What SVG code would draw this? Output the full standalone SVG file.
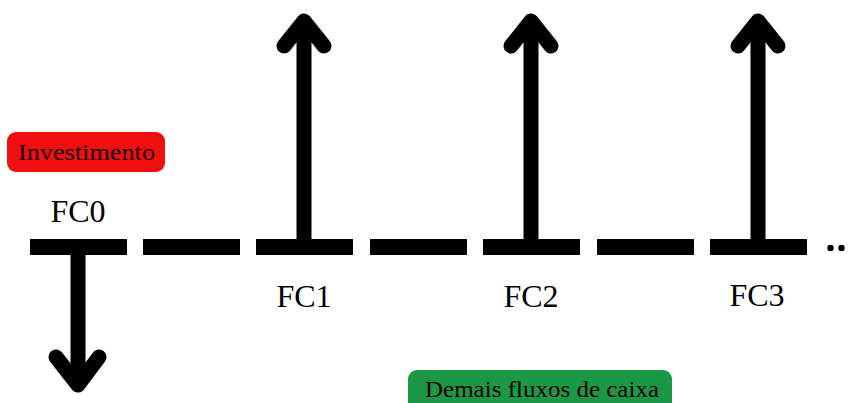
<svg xmlns="http://www.w3.org/2000/svg" width="848" height="403" viewBox="0 0 848 403">
<style>
.seg{fill:#000}
.shaft{stroke:#000;stroke-width:15;fill:none}
.head{stroke:#000;stroke-width:15;fill:none;stroke-linecap:round;stroke-linejoin:round}
.fc{font-family:"Liberation Serif",serif;font-size:32px;fill:#000;text-anchor:middle}
.tag{font-family:"Liberation Serif",serif;font-size:24px;fill:#1a0000}
</style>
<rect width="848" height="403" fill="#fff"/>
<g id="timeline">
<rect class="seg" x="30" y="239" width="97" height="16"/>
<rect class="seg" x="143" y="239" width="97" height="16"/>
<rect class="seg" x="256" y="239" width="97" height="16"/>
<rect class="seg" x="370" y="239" width="97" height="16"/>
<rect class="seg" x="483" y="239" width="97" height="16"/>
<rect class="seg" x="597" y="239" width="97" height="16"/>
<rect class="seg" x="710" y="239" width="97" height="16"/>
<circle cx="830.5" cy="248" r="3.2"/>
<circle cx="841.5" cy="248" r="3.2"/>
</g>
<g id="connectors">
<line class="shaft" x1="78" y1="255" x2="78" y2="384"/>
<polyline class="head" points="56,357 78,385 99,357"/>
<line class="shaft" x1="304" y1="239" x2="304" y2="24"/>
<polyline class="head" points="284,46 304,21 324,46"/>
<line class="shaft" x1="531" y1="239" x2="531" y2="24"/>
<polyline class="head" points="511,46 531,21 551,46"/>
<line class="shaft" x1="758" y1="239" x2="758" y2="24"/>
<polyline class="head" points="738,46 758,21 778,46"/>
</g>
<g id="fc0"><text class="fc" x="78" y="222">FC0</text></g>
<g id="fc1"><text class="fc" x="304" y="307">FC1</text></g>
<g id="fc2"><text class="fc" x="531" y="307">FC2</text></g>
<g id="fc3"><text class="fc" x="757" y="306">FC3</text></g>
<g id="investimento">
<rect x="7" y="132" width="158" height="40" rx="9" fill="#f00f0f"/>
<text class="tag" x="18" y="160" textLength="137" lengthAdjust="spacingAndGlyphs">Investimento</text>
</g>
<g id="demais">
<rect x="408" y="370" width="264" height="45" rx="9" fill="#1a9845"/>
<text class="tag" x="425" y="397" textLength="234" lengthAdjust="spacingAndGlyphs">Demais fluxos de caixa</text>
</g>
</svg>
